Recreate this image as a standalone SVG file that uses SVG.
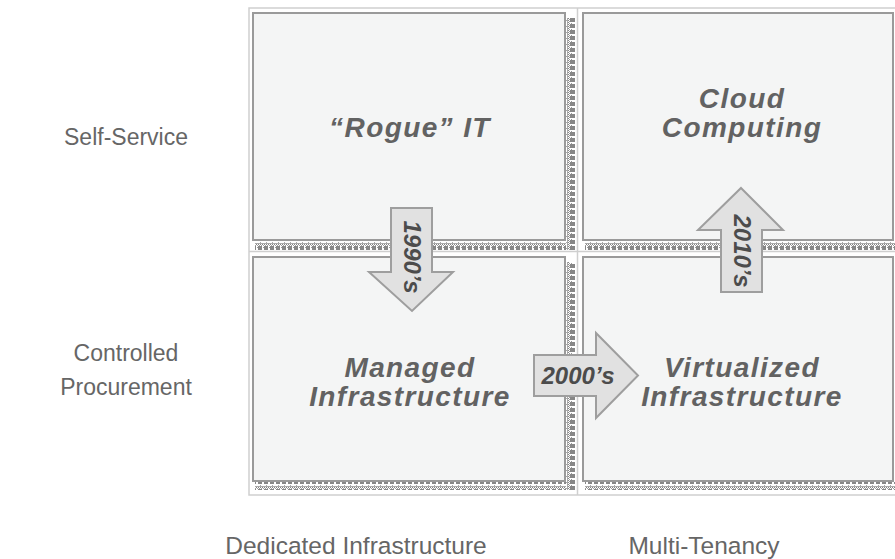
<svg xmlns="http://www.w3.org/2000/svg" width="895" height="559" viewBox="0 0 895 559">
  <style>
    .frame { fill: none; stroke: #cfcfcf; stroke-width: 1.5; }
    .rule { stroke: #cfcfcf; stroke-width: 1.5; }
    .box { fill: #f4f5f5; stroke: #9a9a9a; stroke-width: 2; }
    .title { font-family: "Liberation Sans", Arial, sans-serif; font-weight: bold; font-style: italic; font-size: 28px; fill: #626262; text-anchor: middle; letter-spacing: 1.4px; }
    .axis { font-family: "Liberation Sans", Arial, sans-serif; font-size: 23px; fill: #666; text-anchor: middle; }
    .axis-x { font-family: "Liberation Sans", Arial, sans-serif; font-size: 24.5px; fill: #666; text-anchor: middle; }
    .arrow { fill: #e1e1e1; stroke: #9e9e9e; stroke-width: 2; stroke-linejoin: miter; }
    .era { font-family: "Liberation Sans", Arial, sans-serif; font-weight: bold; font-style: italic; font-size: 24px; fill: #4c4c4c; text-anchor: middle; }
  </style>
  <defs>
    <!-- horizontal textured drop-shadow strip -->
    <pattern id="shadowH" x="0" y="0" width="6" height="9" patternUnits="userSpaceOnUse">
      <rect x="0" y="0" width="6" height="9" fill="#ffffff"/>
      <rect x="0" y="0" width="6" height="1" fill="#aaaaaa"/>
      <rect x="0" y="1" width="1" height="1" fill="#858585"/>
      <rect x="2" y="1" width="1" height="1" fill="#858585"/>
      <rect x="4" y="1" width="1" height="1" fill="#858585"/>
      <rect x="1" y="2" width="1" height="1" fill="#a0a0a0"/>
      <rect x="3" y="2" width="1" height="1" fill="#a0a0a0"/>
      <rect x="5" y="2" width="1" height="1" fill="#a0a0a0"/>
      <rect x="0" y="3" width="4" height="4" fill="#878787"/>
      <rect x="5" y="4" width="1" height="1" fill="#999999"/>
      <rect x="2" y="8" width="1" height="1" fill="#aaaaaa"/>
    </pattern>
    <!-- vertical textured drop-shadow strip -->
    <pattern id="shadowV" x="0" y="0" width="9" height="6" patternUnits="userSpaceOnUse">
      <rect x="0" y="0" width="9" height="6" fill="#ffffff"/>
      <rect x="0" y="0" width="1" height="6" fill="#aaaaaa"/>
      <rect x="1" y="0" width="1" height="1" fill="#858585"/>
      <rect x="1" y="2" width="1" height="1" fill="#858585"/>
      <rect x="1" y="4" width="1" height="1" fill="#858585"/>
      <rect x="2" y="1" width="1" height="1" fill="#a0a0a0"/>
      <rect x="2" y="3" width="1" height="1" fill="#a0a0a0"/>
      <rect x="2" y="5" width="1" height="1" fill="#a0a0a0"/>
      <rect x="3" y="0" width="5" height="4" fill="#878787"/>
      <rect x="4" y="5" width="1" height="1" fill="#999999"/>
      <rect x="8" y="2" width="1" height="1" fill="#aaaaaa"/>
    </pattern>
  </defs>

  <rect width="895" height="559" fill="#ffffff"/>

  <!-- outer frame and quadrant rules -->
  <g id="grid">
    <rect class="frame" x="249" y="8" width="652" height="487"/>
    <line class="rule" x1="249" y1="251.5" x2="895" y2="251.5"/>
    <line class="rule" x1="577.5" y1="8" x2="577.5" y2="495"/>
  </g>

  <!-- textured shadows behind the quadrant boxes -->
  <g id="shadows">
    <rect x="255" y="241" width="320" height="9" fill="url(#shadowH)"/>
    <rect x="566" y="18" width="9" height="232" fill="url(#shadowV)"/>
    <rect x="585" y="241" width="310" height="9" fill="url(#shadowH)"/>
    <rect x="255" y="482" width="320" height="8" fill="url(#shadowH)"/>
    <rect x="566" y="262" width="9" height="228" fill="url(#shadowV)"/>
    <rect x="585" y="482" width="310" height="8" fill="url(#shadowH)"/>
  </g>

  <g id="rogue-it">
    <rect class="box" x="253" y="13" width="312" height="227"/>
    <text class="title" x="410" y="137">“Rogue” IT</text>
  </g>

  <g id="cloud-computing">
    <rect class="box" x="583" y="13" width="310" height="227"/>
    <text class="title" x="742" y="107.5">Cloud</text>
    <text class="title" x="742" y="137">Computing</text>
  </g>

  <g id="managed-infrastructure">
    <rect class="box" x="253" y="257" width="312" height="224"/>
    <text class="title" x="410" y="376.5">Managed</text>
    <text class="title" x="410" y="406">Infrastructure</text>
  </g>

  <g id="virtualized-infrastructure">
    <rect class="box" x="583" y="257" width="310" height="224"/>
    <text class="title" x="742" y="376.5">Virtualized</text>
    <text class="title" x="742" y="406">Infrastructure</text>
  </g>

  <!-- transition arrows between quadrants -->
  <g id="connectors">
    <g id="arrow-1990s">
      <polygon class="arrow" points="391,208 432,208 432,272 453,272 412,311 369,272 391,272"/>
      <text class="era" transform="translate(412,257) rotate(90)" y="8.5">1990’s</text>
    </g>
    <g id="arrow-2000s">
      <polygon class="arrow" points="534,355 596,355 596,333 638,375.5 596,418 596,396 534,396"/>
      <text class="era" x="578" y="384">2000’s</text>
    </g>
    <g id="arrow-2010s">
      <polygon class="arrow" points="741,188 783,230 762,230 762,292 721,292 721,230 698,230"/>
      <text class="era" transform="translate(742,251) rotate(90)" y="8.5">2010’s</text>
    </g>
  </g>

  <!-- axis labels -->
  <g id="axis-labels">
    <text class="axis" x="126" y="145">Self-Service</text>
    <text class="axis" x="126" y="361">Controlled</text>
    <text class="axis" x="126" y="395">Procurement</text>
    <text class="axis-x" x="356" y="554">Dedicated Infrastructure</text>
    <text class="axis-x" x="704" y="554">Multi-Tenancy</text>
  </g>
</svg>
